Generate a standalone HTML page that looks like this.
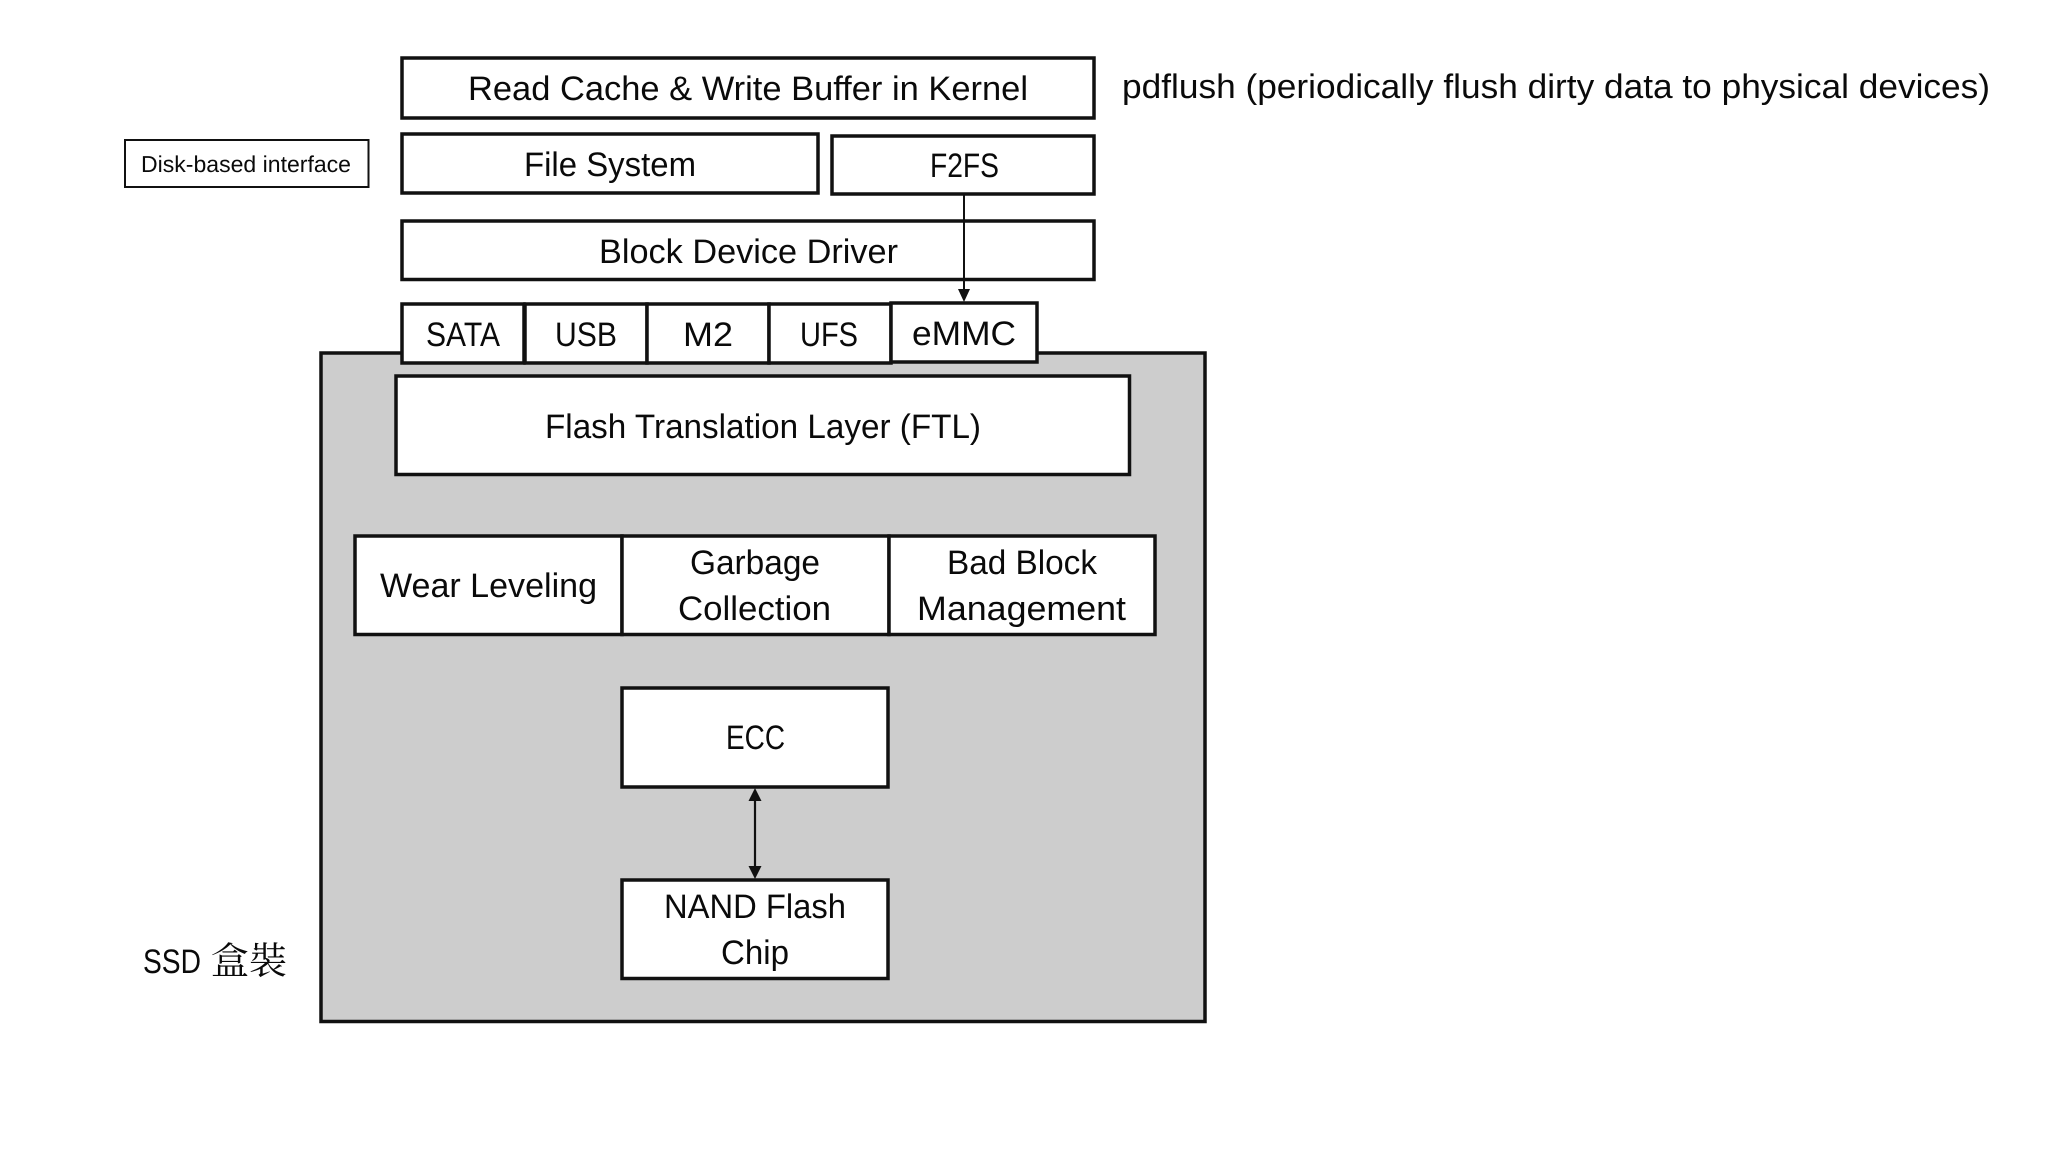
<!DOCTYPE html>
<html>
<head>
<meta charset="utf-8">
<style>
html,body{margin:0;padding:0;background:#fff;width:2048px;height:1152px;overflow:hidden}
svg{display:block}
text{font-family:"Liberation Sans","Noto Serif CJK SC",sans-serif;font-size:34px;fill:#0a0a0a;text-rendering:geometricPrecision}
.b{fill:#fff;stroke:#111;stroke-width:3.5}
</style>
</head>
<body>
<svg width="2048" height="1152" viewBox="0 0 2048 1152" xmlns="http://www.w3.org/2000/svg">
<rect x="321" y="353" width="884" height="668.5" fill="#cdcdcd" stroke="#111" stroke-width="3.5"/>

<rect class="b" x="402" y="58" width="692" height="60"/>
<rect class="b" x="402" y="134" width="416" height="59"/>
<rect class="b" x="832" y="136" width="262" height="58"/>
<rect class="b" x="402" y="221" width="692" height="58.5"/>
<rect x="125" y="140" width="243.5" height="47" fill="#fff" stroke="#111" stroke-width="2"/>

<rect class="b" x="402" y="304" width="122" height="59"/>
<rect class="b" x="525" y="304" width="122" height="59"/>
<rect class="b" x="647" y="304" width="122" height="59"/>
<rect class="b" x="769" y="304" width="122" height="59"/>
<rect class="b" x="891" y="303" width="146" height="59"/>

<rect class="b" x="396" y="376" width="733.5" height="98.5"/>

<rect class="b" x="355" y="536" width="267" height="98.5"/>
<rect class="b" x="622" y="536" width="267" height="98.5"/>
<rect class="b" x="889" y="536" width="266" height="98.5"/>

<rect class="b" x="622" y="688" width="266" height="99"/>
<rect class="b" x="622" y="880" width="266" height="98.5"/>

<line x1="964" y1="195" x2="964" y2="292" stroke="#111" stroke-width="2"/>
<polygon points="958,289 970,289 964,302" fill="#111"/>

<line x1="755" y1="798" x2="755" y2="870" stroke="#111" stroke-width="2.2"/>
<polygon points="755,788 748.5,801 761.5,801" fill="#111"/>
<polygon points="755,879 748.5,866 761.5,866" fill="#111"/>

<text x="468" y="100" textLength="560" lengthAdjust="spacingAndGlyphs">Read Cache &amp; Write Buffer in Kernel</text>
<text x="1122" y="98" textLength="868" lengthAdjust="spacingAndGlyphs">pdflush (periodically flush dirty data to physical devices)</text>
<text x="524" y="176" textLength="172" lengthAdjust="spacingAndGlyphs">File System</text>
<text x="930" y="177" textLength="69" lengthAdjust="spacingAndGlyphs">F2FS</text>
<text x="599" y="263" textLength="299" lengthAdjust="spacingAndGlyphs">Block Device Driver</text>
<text x="426" y="346" textLength="74" lengthAdjust="spacingAndGlyphs">SATA</text>
<text x="555" y="346" textLength="62" lengthAdjust="spacingAndGlyphs">USB</text>
<text x="683" y="346" textLength="50" lengthAdjust="spacingAndGlyphs">M2</text>
<text x="800" y="346" textLength="58" lengthAdjust="spacingAndGlyphs">UFS</text>
<text x="912" y="345" textLength="104" lengthAdjust="spacingAndGlyphs">eMMC</text>
<text x="545" y="438" textLength="436" lengthAdjust="spacingAndGlyphs">Flash Translation Layer (FTL)</text>
<text x="380" y="597" textLength="217" lengthAdjust="spacingAndGlyphs">Wear Leveling</text>
<text x="690" y="574" textLength="130" lengthAdjust="spacingAndGlyphs">Garbage</text>
<text x="678" y="620" textLength="153" lengthAdjust="spacingAndGlyphs">Collection</text>
<text x="947" y="574" textLength="150" lengthAdjust="spacingAndGlyphs">Bad Block</text>
<text x="917" y="620" textLength="209" lengthAdjust="spacingAndGlyphs">Management</text>
<text x="726" y="749" textLength="59" lengthAdjust="spacingAndGlyphs">ECC</text>
<text x="664" y="918" textLength="182" lengthAdjust="spacingAndGlyphs">NAND Flash</text>
<text x="721" y="964" textLength="68" lengthAdjust="spacingAndGlyphs">Chip</text>
<text x="141" y="172" textLength="210" lengthAdjust="spacingAndGlyphs" style="font-size:23px">Disk-based interface</text>
<text x="143" y="973" textLength="58" lengthAdjust="spacingAndGlyphs">SSD</text>
<text x="211" y="974" style="font-family:'Noto Serif CJK SC','Noto Serif CJK TC',serif;font-size:38px">盒裝</text>
</svg>
</body>
</html>
